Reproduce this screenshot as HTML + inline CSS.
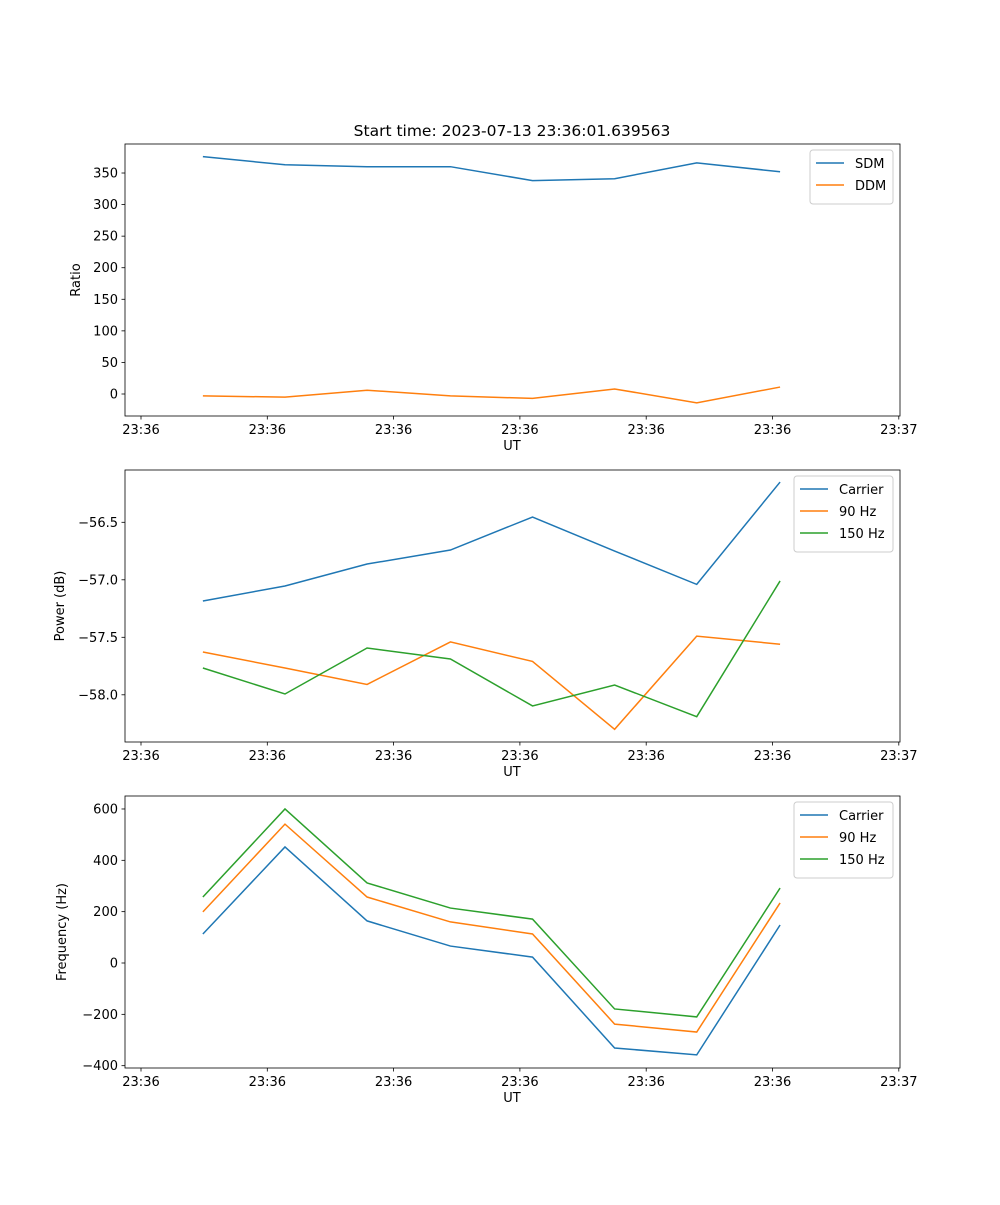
<!DOCTYPE html>
<html><head><meta charset="utf-8"><style>
body{margin:0;background:#fff}
svg text{font-family:"DejaVu Sans","Liberation Sans",sans-serif;fill:#000}
</style></head><body>
<svg id="fig" width="1000" height="1200" xmlns="http://www.w3.org/2000/svg">
<rect width="1000" height="1200" fill="#fff"/>
<text x="512" y="136" font-size="15.5" text-anchor="middle">Start time: 2023-07-13 23:36:01.639563</text>
</svg>
<script>
const times=[4.9,11.4,17.9,24.5,31.0,37.5,44.0,50.6];
const xTicks=[0,10,20,30,40,50,60];
const xTickLabels=["23:36","23:36","23:36","23:36","23:36","23:36","23:37"];
const sdm=[376,363,360,360,338,341,366,352];
const ddm=[-3,-5,6,-3,-7,8,-14,11];
const ratioTicks=[0,50,100,150,200,250,300,350];
const powCarrier=[-57.184,-57.054,-56.863,-56.741,-56.454,-56.75,-57.04,-56.15];
const pow90=[-57.628,-57.767,-57.91,-57.54,-57.71,-58.30,-57.49,-57.56];
const pow150=[-57.767,-57.993,-57.593,-57.689,-58.097,-57.915,-58.19,-57.01];
const powTicks=[-56.5,-57.0,-57.5,-58.0];
const freqCarrier=[113,452,164,66,23,-331,-358,148];
const freq90=[199,541,257,160,113,-238,-269,234];
const freq150=[257,600,312,214,171,-179,-210,292];
const freqTicks=[600,400,200,0,-200,-400];

const svg=document.getElementById('fig');
const NS='http://www.w3.org/2000/svg';
function mk(t,a,p){const e=document.createElementNS(NS,t);for(const k in a)e.setAttribute(k,a[k]);(p||svg).appendChild(e);return e;}
const L=125,R=900;
const xs=s=>141+12.63*s;
const C=['#1f77b4','#ff7f0e','#2ca02c'];
function panel(name,top,bot,y,ticks,fmt,series,names,ylabel,ylx,legW){
  const g=mk('g',{});
  
  
  series.forEach((s,i)=>{
    const p=mk('polyline',{points:s.map((v,j)=>xs(times[j])+','+y(v)).join(' '),fill:'none',stroke:C[i],'stroke-width':1.5},g);
    
    
  });
  const fr=mk('rect',{x:L,y:top,width:R-L,height:bot-top,fill:'none',stroke:'#000','stroke-width':0.8},g);
  
  
  xTicks.forEach((t,i)=>{const x=xs(t);
    mk('line',{x1:x,x2:x,y1:bot,y2:bot+3.5,stroke:'#000','stroke-width':0.8},g);
    const tx=mk('text',{x:x,y:bot+18,'font-size':13,'text-anchor':'middle'},g);tx.textContent=xTickLabels[i];
    
    
  });
  ticks.forEach(v=>{const yy=y(v);
    mk('line',{x1:L,x2:L-3.5,y1:yy,y2:yy,stroke:'#000','stroke-width':0.8},g);
    const tx=mk('text',{x:L-7,y:yy+4.5,'font-size':13,'text-anchor':'end'},g);tx.textContent=fmt(v);
    
    
  });
  const xl=mk('text',{x:512,y:bot+34,'font-size':13,'text-anchor':'middle'},g);xl.textContent='UT';
  
  
  const yc=(top+bot)/2;
  const yl=mk('text',{x:ylx,y:yc,'font-size':13,'text-anchor':'middle',transform:'rotate(-90 '+ylx+' '+yc+')'},g);yl.textContent=ylabel;
  
  
  const lx=R-7-legW,ly=top+6,h=10+names.length*22;
  const lg=mk('g',{},g);
  
  
  mk('rect',{x:lx,y:ly,width:legW,height:h,rx:3,fill:'#fff','fill-opacity':0.8,stroke:'#ccc'},lg);
  names.forEach((n,i)=>{const yy=ly+13+i*22;
    mk('line',{x1:lx+6,x2:lx+34,y1:yy,y2:yy,stroke:C[i],'stroke-width':1.5},lg);
    const t=mk('text',{x:lx+45,y:yy+5,'font-size':13},lg);t.textContent=n;
    
    
  });
}
panel('ratio-panel',144,416,v=>394-0.6314*v,ratioTicks,v=>String(v),[sdm,ddm],['SDM','DDM'],'Ratio',80,83);
panel('power-panel',470,742,v=>522.3-115*(v+56.5),powTicks,v=>'\u2212'+Math.abs(v).toFixed(1),[powCarrier,pow90,pow150],['Carrier','90 Hz','150 Hz'],'Power (dB)',64,99);
panel('frequency-panel',796,1068,v=>963-0.2567*v,freqTicks,v=>v<0?'\u2212'+(-v):String(v),[freqCarrier,freq90,freq150],['Carrier','90 Hz','150 Hz'],'Frequency (Hz)',66,99);
</script>
</body></html>
